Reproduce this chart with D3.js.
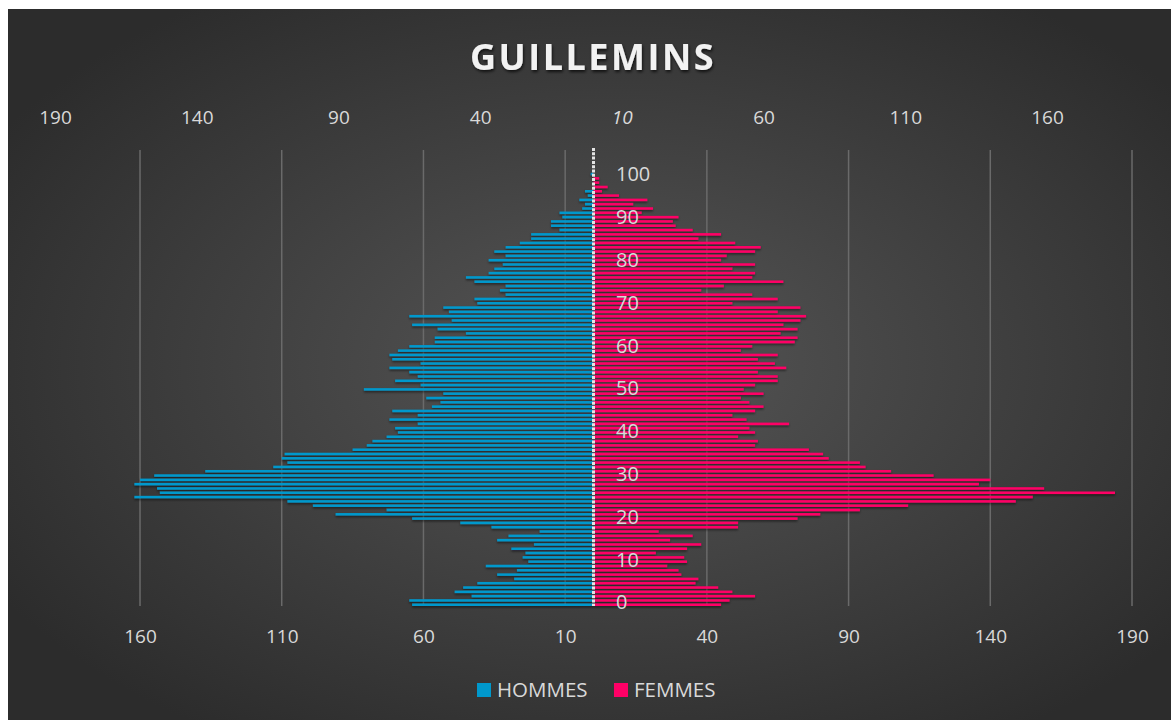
<!DOCTYPE html>
<html lang="fr">
<head>
  <meta charset="UTF-8" />
  <title>Guillemins</title>
  <script src="https://cdnjs.cloudflare.com/ajax/libs/d3/7.8.4/d3.min.js"></script>
  <style>
    body { margin: 0; background: #fff; overflow: hidden; }
    svg { display: block; }
    text { font-family: "Open Sans", sans-serif; fill: #d9d9d9; }
  </style>
</head>
<body>
  <svg width="1171" height="720"></svg>
  <script>
    // ages 0..100
    const ages = d3.range(0, 101);

    // HOMMES, age 0 -> 100
    const hommes = [
      64, 65, 43, 49, 46, 41, 28, 34, 27, 38,
      23, 25, 24, 29, 21, 34, 30, 19, 36, 47,
      64, 91, 73, 99, 108, 162, 153, 154, 162, 160,
      155, 137, 113, 108, 110, 109, 85, 80, 78, 73,
      69, 70, 62, 72, 62, 71, 57, 54, 59, 53,
      81, 61, 70, 62, 65, 72, 61, 71, 72, 69,
      65, 56, 56, 45, 55, 64, 50, 65, 51, 53,
      41, 42, 31, 33, 31, 42, 45, 37, 35, 32,
      37, 31, 35, 31, 26, 22, 22, 12, 15, 15,
      11, 12, 4, 3, 5, 2, 3, 0, 0, 0,
      1
    ];

    // FEMMES, age 0 -> 100
    const femmes = [
      45, 48, 57, 49, 44, 36, 37, 31, 30, 26,
      33, 32, 22, 33, 38, 27, 35, 23, 51, 51,
      72, 80, 94, 111, 149, 155, 184, 159, 136, 140,
      120, 105, 96, 94, 83, 81, 76, 57, 58, 51,
      57, 55, 69, 54, 49, 57, 60, 55, 52, 60,
      53, 57, 65, 65, 58, 68, 64, 58, 65, 52,
      56, 71, 72, 66, 72, 67, 73, 75, 65, 73,
      49, 65, 56, 38, 46, 67, 56, 57, 49, 57,
      45, 47, 57, 59, 50, 37, 45, 35, 29, 28,
      30, 17, 21, 14, 19, 9, 3, 5, 2, 2,
      0
    ];

    const bottomTicks = [-160, -110, -60, -10, 40, 90, 140, 190];
    const topTicks = [-190, -140, -90, -40, 10, 60, 110, 160];
    const ageTicks = [0, 10, 20, 30, 40, 50, 60, 70, 80, 90, 100];

    const colHommes = "#0098cc";
    const colFemmes = "#ff0066";

    const svg = d3.select("svg");
    const defs = svg.append("defs");

    const bg = defs.append("radialGradient")
      .attr("id", "bg")
      .attr("cx", "0.52").attr("cy", "0.5").attr("r", "0.62");
    bg.append("stop").attr("offset", "0%").attr("stop-color", "#565656");
    bg.append("stop").attr("offset", "100%").attr("stop-color", "#2c2c2c");

    const shadow = defs.append("filter").attr("id", "shadow")
      .attr("x", "-5%").attr("y", "-5%").attr("width", "110%").attr("height", "110%");
    shadow.append("feDropShadow")
      .attr("dx", 0).attr("dy", 1.5).attr("stdDeviation", 1)
      .attr("flood-color", "#000").attr("flood-opacity", 0.55);

    const titleShadow = defs.append("filter").attr("id", "tshadow");
    titleShadow.append("feDropShadow")
      .attr("dx", 1).attr("dy", 2).attr("stdDeviation", 1.5)
      .attr("flood-color", "#000").attr("flood-opacity", 0.7);

    svg.append("rect")
      .attr("x", 8).attr("y", 9)
      .attr("width", 1163).attr("height", 711)
      .attr("fill", "url(#bg)");

    const x = d3.scaleLinear().domain([-190, 190]).range([55, 1132]);
    const y = d3.scaleBand().domain(ages).range([606, 172.8]).paddingInner(0.42);

    // gridlines
    svg.append("g")
      .selectAll("line")
      .data(bottomTicks)
      .join("line")
      .attr("x1", d => x(d)).attr("x2", d => x(d))
      .attr("y1", 150).attr("y2", 606)
      .attr("stroke", "#6a6a6a")
      .attr("stroke-width", 1.5);

    // bars
    const bars = svg.append("g").attr("filter", "url(#shadow)");
    bars.selectAll(".h")
      .data(ages)
      .join("rect")
      .attr("class", "h")
      .attr("x", d => x(-hommes[d]))
      .attr("y", d => y(d))
      .attr("width", d => x(0) - x(-hommes[d]))
      .attr("height", y.bandwidth())
      .attr("fill", colHommes);
    bars.selectAll(".f")
      .data(ages)
      .join("rect")
      .attr("class", "f")
      .attr("x", x(0))
      .attr("y", d => y(d))
      .attr("width", d => x(femmes[d]) - x(0))
      .attr("height", y.bandwidth())
      .attr("fill", colFemmes);

    // centre axis line
    svg.append("line")
      .attr("x1", x(0)).attr("x2", x(0))
      .attr("y1", 148).attr("y2", 606)
      .attr("stroke", "#e4e4e4")
      .attr("stroke-width", 3)
      .attr("stroke-dasharray", "3,1.3");

    // axes
    const fmt = d => Math.abs(d);
    const axisBottom = svg.append("g")
      .attr("transform", "translate(0,626)")
      .call(d3.axisBottom(x).tickValues(bottomTicks).tickFormat(fmt).tickSize(0));
    const axisTop = svg.append("g")
      .attr("transform", "translate(0,127)")
      .call(d3.axisTop(x).tickValues(topTicks).tickFormat(fmt).tickSize(0));
    [axisBottom, axisTop].forEach(g => {
      g.select(".domain").remove();
      g.selectAll("text")
        .style("font-family", "'Open Sans', sans-serif")
        .style("font-size", "19px")
        .attr("fill", "#d9d9d9");
    });
    axisTop.selectAll(".tick text").filter(d => d === 10).style("font-style", "italic");

    // age labels
    svg.append("g")
      .selectAll("text")
      .data(ageTicks)
      .join("text")
      .attr("x", 616)
      .attr("y", d => y(d) + y.bandwidth() / 2 + (d - 50) * 0.026)
      .attr("dy", "0.3em")
      .style("font-size", "20px")
      .text(d => d);

    // title
    svg.append("text")
      .attr("x", 593)
      .attr("y", 70)
      .attr("text-anchor", "middle")
      .attr("filter", "url(#tshadow)")
      .style("font-size", "36px")
      .style("font-weight", "bold")
      .style("letter-spacing", "2.5px")
      .style("fill", "#f2f2f2")
      .text("GUILLEMINS");

    // legend
    const legend = [
      { name: "HOMMES", color: colHommes, x: 477 },
      { name: "FEMMES", color: colFemmes, x: 614 }
    ];
    const lg = svg.append("g").selectAll("g").data(legend).join("g")
      .attr("transform", d => `translate(${d.x},683)`);
    lg.append("rect").attr("width", 14).attr("height", 14).attr("fill", d => d.color);
    lg.append("text")
      .attr("x", 20).attr("y", 7).attr("dy", "0.36em")
      .style("font-size", "20.5px")
      .text(d => d.name);
  </script>
</body>
</html>
